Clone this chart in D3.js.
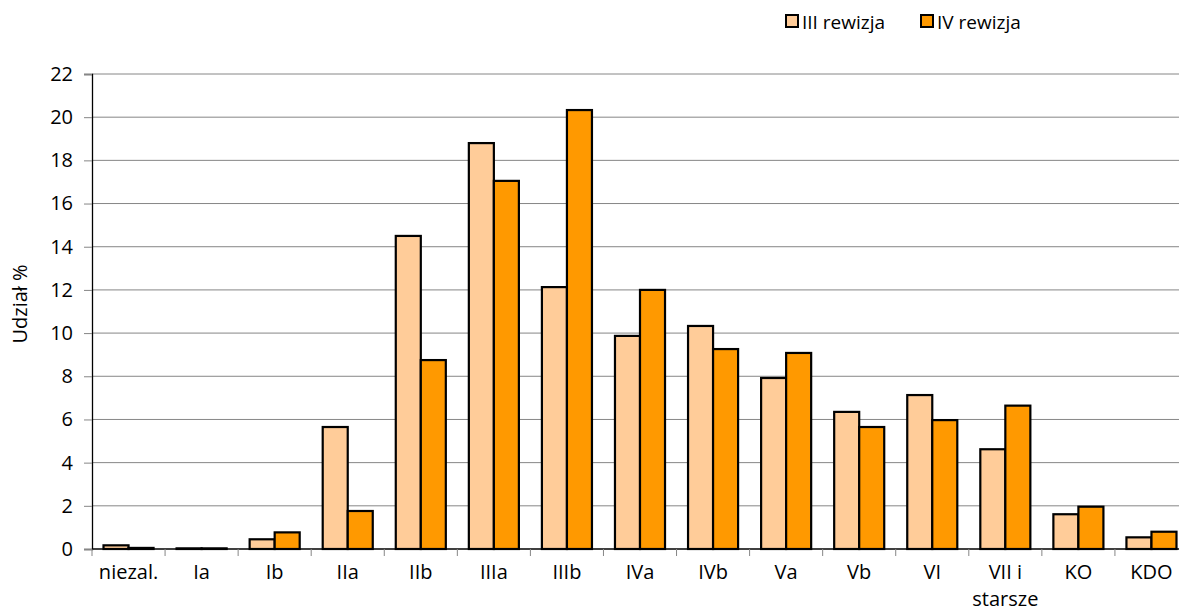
<!DOCTYPE html>
<html><head><meta charset="utf-8">
<script src="https://cdn.jsdelivr.net/npm/d3@7"></script>
<style>body{margin:0;background:#fff;overflow:hidden}svg{display:block;font-family:"Open Sans",sans-serif}</style>
</head><body>
<svg id="c" width="1179" height="611"></svg>
<script>
const categories = ["niezal.","Ia","Ib","IIa","IIb","IIIa","IIIb","IVa","IVb","Va","Vb","VI","VII i starsze","KO","KDO"];
const seriesNames = ["III rewizja","IV rewizja"];
const rew3 = [0.17,0.03,0.45,5.65,14.5,18.8,12.13,9.87,10.33,7.92,6.35,7.13,4.62,1.61,0.54];
const rew4 = [0.05,0.03,0.77,1.76,8.75,17.05,20.33,12.0,9.26,9.08,5.65,5.97,6.64,1.96,0.80];
const yTicks = [0,2,4,6,8,10,12,14,16,18,20,22];
const colors = ["#FFCC99","#FF9900"];
const FONT = "'Open Sans',sans-serif";

const svg = d3.select("#c");
const L = 92, R = 1188, T = 74, B = 549;
const x = d3.scaleBand().domain(categories).range([L, R]).paddingInner(0).paddingOuter(0);
const xs = d3.scaleBand().domain(seriesNames).range([0, x.bandwidth()]).paddingInner(0).paddingOuter(0.46);
const y = d3.scaleLinear().domain([0, 22]).range([B, T]);

svg.append("g").selectAll("line").data(yTicks.filter(d=>d>0)).join("line")
  .attr("x1", L).attr("x2", 1179).attr("y1", d=>y(d)).attr("y2", d=>y(d))
  .attr("stroke", "#868686").attr("stroke-width", 1);

const ya = svg.append("g").attr("transform", `translate(${L},0)`)
  .call(d3.axisLeft(y).tickValues(yTicks).tickSize(8).tickPadding(11));
ya.select(".domain").attr("stroke", "#000").attr("stroke-width", 1.3);
ya.selectAll(".tick line").attr("stroke", "#868686");
ya.selectAll("text").attr("font-size", 20).attr("fill", "#000").attr("font-family", FONT);

const data = categories.map((c,i)=>({c, vals:[rew3[i], rew4[i]]}));
const g = svg.append("g");
data.forEach(d=>{
  d.vals.forEach((v,j)=>{
    g.append("rect")
      .attr("x", x(d.c) + xs(seriesNames[j]))
      .attr("y", y(v))
      .attr("width", xs.bandwidth())
      .attr("height", B - y(v))
      .attr("fill", colors[j]).attr("stroke", "#000").attr("stroke-width", 2.2);
  });
});

const xa = svg.append("g").attr("transform", `translate(0,${B})`)
  .call(d3.axisBottom(x).tickSize(0).tickPadding(16));
xa.select(".domain").remove();
xa.append("line").attr("x1", L).attr("x2", 1179).attr("y1", 0).attr("y2", 0).attr("stroke", "#000").attr("stroke-width", 1.3);
xa.selectAll(".bt").data(categories.map(c=>x(c))).join("line").attr("class","bt")
  .attr("x1", d=>d).attr("x2", d=>d).attr("y1", 0).attr("y2", 7).attr("stroke", "#868686");
xa.selectAll(".tick text").attr("font-size", 20).attr("fill", "#000").attr("font-family", FONT)
  .each(function(d){
    const t = d3.select(this);
    if (d === "VII i starsze") {
      t.text(null);
      t.append("tspan").attr("x", 0).attr("dy", "0.71em").text("VII i");
      t.append("tspan").attr("x", 0).attr("dy", "1.35em").text("starsze");
    }
  });

svg.append("text").attr("transform", "translate(27,304) rotate(-90)")
  .attr("text-anchor", "middle").attr("font-size", 20).attr("fill", "#000").attr("font-family", FONT).text("Udział %");

const leg = svg.append("g");
const lx = [786, 921];
seriesNames.forEach((s,i)=>{
  leg.append("rect").attr("x", lx[i]).attr("y", 15).attr("width", 12).attr("height", 12)
    .attr("fill", colors[i]).attr("stroke", "#000").attr("stroke-width", 2);
  leg.append("text").attr("x", lx[i]+16).attr("y", 28.5).attr("font-size", 19).attr("fill", "#000").attr("font-family", FONT).text(s);
});
</script>
</body></html>
